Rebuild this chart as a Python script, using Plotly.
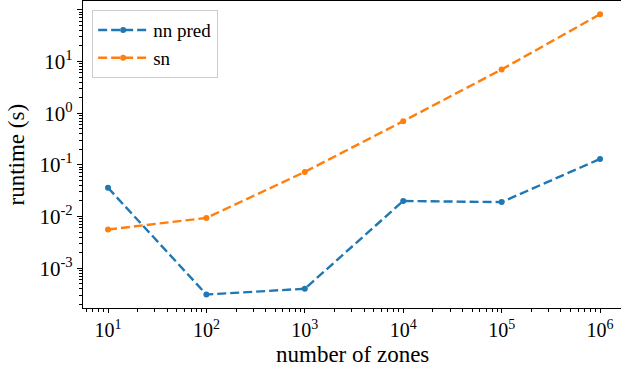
import numpy as np
import plotly.graph_objects as go

zones = [1e1, 1e2, 1e3, 1e4, 1e5, 1e6]
nn_pred = [0.036, 3.1e-4, 4.0e-4, 0.020, 0.019, 0.13]
sn = [0.0056, 0.0094, 0.073, 0.70, 7.0, 82]

FONT = "Liberation Serif"

fig = go.Figure()
fig.add_trace(go.Scatter(x=zones, y=nn_pred, name="nn pred", mode="lines+markers",
                         line=dict(color="#1f77b4", width=2.4, dash="9px,4px"),
                         marker=dict(size=6, color="#1f77b4")))
fig.add_trace(go.Scatter(x=zones, y=sn, name="sn", mode="lines+markers",
                         line=dict(color="#ff7f0e", width=2.4, dash="9px,4px"),
                         marker=dict(size=6, color="#ff7f0e")))

def minors(lo, hi):
    v = []
    for k in range(lo, hi):
        for m in range(2, 10):
            v.append(m * 10.0 ** k)
    return v

xmaj = [10.0 ** k for k in range(1, 7)]
ymaj = [10.0 ** k for k in range(-3, 3)]

fig.update_xaxes(type="log", range=[0.746, 6.213],
                 tickvals=xmaj, ticktext=[f"10<sup>{k}</sup>" for k in range(1, 7)],
                 ticks="outside", ticklen=4, tickwidth=1, tickcolor="black",
                 showline=True, linecolor="black", linewidth=1.2, mirror=True,
                 showgrid=False, zeroline=False,
                 minor=dict(tickvals=minors(0, 7), ticks="outside", ticklen=3, tickwidth=0.8, tickcolor="black", showgrid=False),
                 tickfont=dict(family=FONT, size=20, color="black"))
fig.update_yaxes(type="log", range=[-3.77, 2.17],
                 tickvals=ymaj, ticktext=[f"10<sup>{k}</sup>" for k in range(-3, 3)],
                 ticks="outside", ticklen=5, tickwidth=1, tickcolor="black",
                 showline=True, linecolor="black", linewidth=1.2, mirror=False,
                 showgrid=False, zeroline=False,
                 minor=dict(tickvals=minors(-4, 3), ticks="outside", ticklen=3, tickwidth=0.8, tickcolor="black", showgrid=False),
                 tickfont=dict(family=FONT, size=21, color="black"))

fig.add_annotation(text="number of zones", xref="paper", yref="paper", x=0.5, y=-0.152,
                   xanchor="center", yanchor="middle", showarrow=False, borderpad=0,
                   font=dict(family=FONT, size=23, color="black"))
fig.add_annotation(text="runtime (s)", xref="paper", yref="paper", x=-0.1245, y=0.5,
                   xanchor="center", yanchor="middle", showarrow=False, textangle=-90, borderpad=0,
                   font=dict(family=FONT, size=23, color="black"))

fig.update_layout(width=621, height=373, margin=dict(l=83, r=0, t=1, b=65),
                  plot_bgcolor="white", paper_bgcolor="white",
                  font=dict(family=FONT, size=19, color="black"),
                  legend=dict(x=0.017, y=0.97, xanchor="left", yanchor="top",
                              bordercolor="#cccccc", borderwidth=1, bgcolor="rgba(255,255,255,0.8)",
                              font=dict(family=FONT, size=19, color="black"),
                              itemwidth=50, tracegroupgap=0))

fig.write_html("out.html")
